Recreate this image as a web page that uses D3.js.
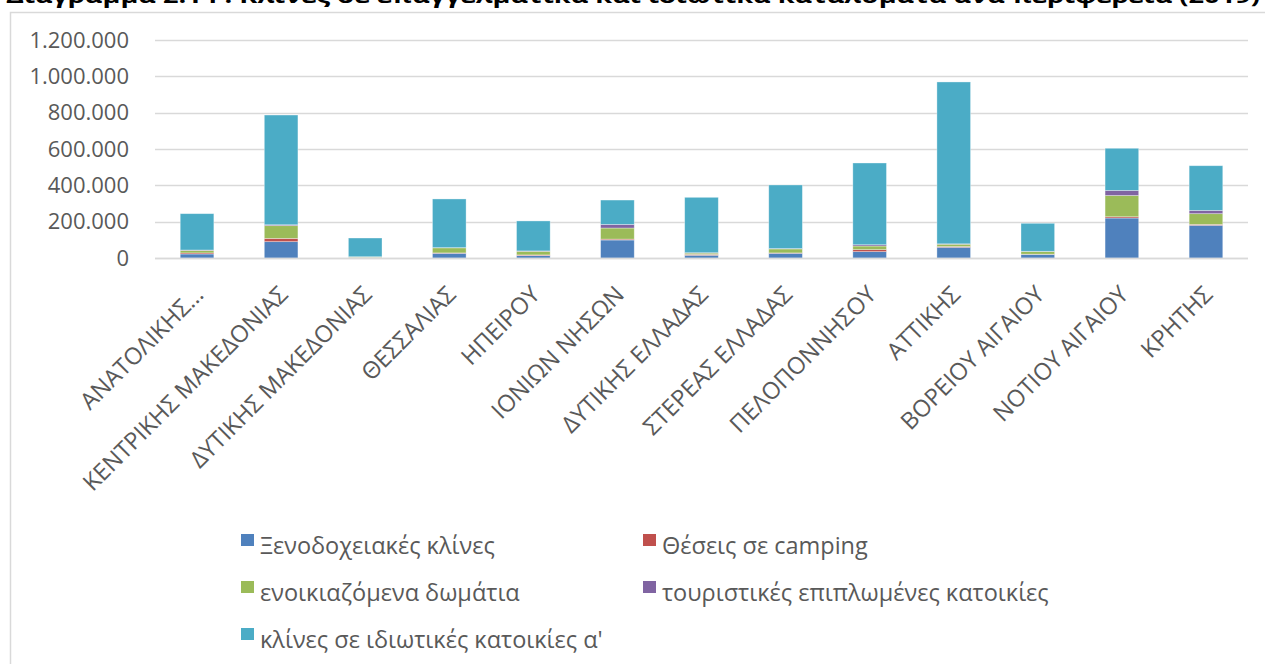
<!DOCTYPE html>
<html><head><meta charset="utf-8">
<script src="https://cdn.jsdelivr.net/npm/d3@7"></script>
<style>
html,body{margin:0;padding:0;background:#fff;overflow:hidden}
svg{display:block}
</style></head>
<body>
<script>
const title = "Διάγραμμα 2.14 : Κλίνες σε επαγγελματικά και ιδιωτικά καταλύματα ανά περιφέρεια (2019)";
const categories = ["ΑΝΑΤΟΛΙΚΗΣ…","ΚΕΝΤΡΙΚΗΣ ΜΑΚΕΔΟΝΙΑΣ","ΔΥΤΙΚΗΣ ΜΑΚΕΔΟΝΙΑΣ","ΘΕΣΣΑΛΙΑΣ","ΗΠΕΙΡΟΥ","ΙΟΝΙΩΝ ΝΗΣΩΝ","ΔΥΤΙΚΗΣ ΕΛΛΑΔΑΣ","ΣΤΕΡΕΑΣ ΕΛΛΑΔΑΣ","ΠΕΛΟΠΟΝΝΗΣΟΥ","ΑΤΤΙΚΗΣ","ΒΟΡΕΙΟΥ ΑΙΓΑΙΟΥ","ΝΟΤΙΟΥ ΑΙΓΑΙΟΥ","ΚΡΗΤΗΣ"];
const seriesNames = ["Ξενοδοχειακές κλίνες","Θέσεις σε camping","ενοικιαζόμενα δωμάτια","τουριστικές επιπλωμένες κατοικίες","κλίνες σε ιδιωτικές κατοικίες α'"];
const hotelBeds   = [22000, 90000, 3000, 26000, 13000,  99000, 15000, 26000, 35000, 59000, 20000, 220000, 180000];
const campingPlaces=[ 6000, 18000,  500,  2000,  4000,   5000,  5000,  2000, 11000,  4000,  1000,   7000,   5000];
const rentedRooms = [14000, 70000, 3000, 28000, 20000,  61000,  7000, 22000, 20000, 13000, 15000, 117000,  59000];
const furnished   = [ 2000,  5000,  500,  1000,  2000,  20000,  2000,  2000,  7000,  2000,  1000,  28000,  18000];
const privateBeds = [200000,604000,103000,268000,165000,134000,305000,350000,450000,891000,154000, 232000, 246000];
const yTicks = [0,200000,400000,600000,800000,1000000,1200000];
const yTickLabels = ["0","200.000","400.000","600.000","800.000","1.000.000","1.200.000"];
const colors = ["#4F81BD","#C0504D","#9BBB59","#8064A2","#4BACC6"];

const W=1265,H=664;
const FONT = "'Open Sans','Noto Sans',sans-serif";
const svg = d3.select("body").append("svg").attr("width",W).attr("height",H);

// chart frame
svg.append("rect").attr("x",10.5).attr("y",12.5).attr("width",W+20).attr("height",H+20)
  .attr("fill","none").attr("stroke","#d9d9d9").attr("stroke-width",1.5);

// title (clipped at top in the reference)
svg.append("text").attr("x",6).attr("y",3).text(title)
  .attr("font-family",FONT).attr("font-weight","bold").attr("font-size",20).attr("fill","#000")
  .attr("textLength",1254).attr("lengthAdjust","spacingAndGlyphs");

const x = d3.scaleBand().domain(categories).range([155,1248]).paddingInner(0.6).paddingOuter(0.3);
const y = d3.scaleLinear().domain([0,1200000]).range([258,40]);

// gridlines
svg.append("g").selectAll("line").data(yTicks).join("line")
  .attr("x1",155).attr("x2",1248).attr("y1",d=>Math.round(y(d))+0.5).attr("y2",d=>Math.round(y(d))+0.5)
  .attr("stroke","#d9d9d9").attr("stroke-width",1.5);

// y axis labels
const yAxis = d3.axisLeft(y).tickValues(yTicks).tickFormat((d,i)=>yTickLabels[i]).tickSize(0).tickPadding(0);
const gy = svg.append("g").attr("transform","translate(129,0)").call(yAxis);
gy.select(".domain").remove();
gy.selectAll("text").attr("font-family",FONT).attr("font-size",22).attr("fill","#595959");

// stacked data
const rows = categories.map((c,i)=>({cat:c, s0:hotelBeds[i], s1:campingPlaces[i], s2:rentedRooms[i], s3:furnished[i], s4:privateBeds[i]}));
const stack = d3.stack().keys(["s0","s1","s2","s3","s4"])(rows);
svg.append("g").selectAll("g").data(stack).join("g").attr("fill",(d,i)=>colors[i])
  .selectAll("rect").data(d=>d).join("rect")
  .attr("x",d=>x(d.data.cat)).attr("width",x.bandwidth())
  .attr("y",d=>y(d[1])).attr("height",d=>y(d[0])-y(d[1]))
  .attr("stroke","#ffffff").attr("stroke-opacity",0.45).attr("stroke-width",0.75);

// baseline axis
svg.append("line").attr("x1",155).attr("x2",1248).attr("y1",258.5).attr("y2",258.5)
  .attr("stroke","#d9d9d9").attr("stroke-width",1.5);

// x labels
const xAxis = d3.axisBottom(x).tickSize(0).tickPadding(0);
const gx = svg.append("g").call(xAxis);
gx.select(".domain").remove();
gx.selectAll(".tick").attr("transform",d=>`translate(${x(d)+x.bandwidth()/2+8},296)`);
gx.selectAll("text").attr("y",0).attr("x",0).attr("dy",0)
  .attr("transform","rotate(-45)").attr("text-anchor","end")
  .attr("font-family",FONT).attr("font-size",23.5).attr("fill","#595959");

// legend
const legPos = [[241,554],[643,554],[241,601],[643,601],[241,648]];
const leg = svg.append("g").selectAll("g").data(seriesNames).join("g")
  .attr("transform",(d,i)=>`translate(${legPos[i][0]},${legPos[i][1]})`);
leg.append("rect").attr("x",0).attr("y",-20).attr("width",13).attr("height",12).attr("fill",(d,i)=>colors[i]);
leg.append("text").attr("x",19).attr("y",0).text(d=>d)
  .attr("font-family",FONT).attr("font-size",23.5).attr("fill","#595959");
</script>
</body></html>
